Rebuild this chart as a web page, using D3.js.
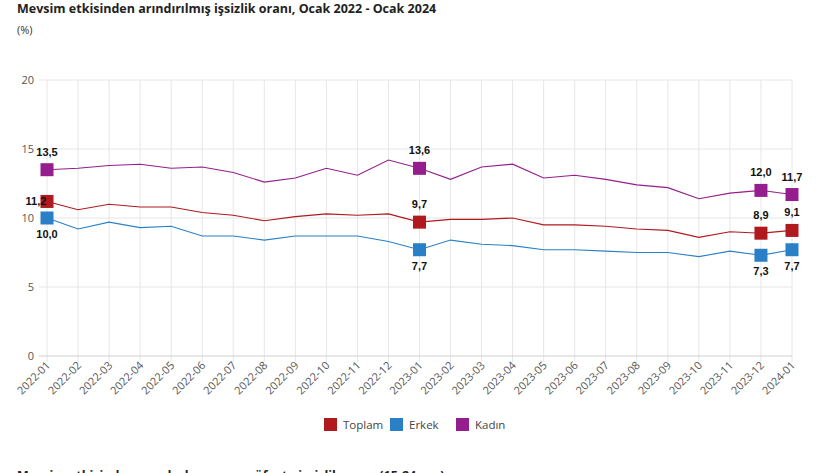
<!DOCTYPE html>
<html><head><meta charset="utf-8">
<script src="https://cdn.jsdelivr.net/npm/d3@7"></script>
<style>
body{margin:0;background:#fff;}
svg{display:block;}
</style></head>
<body>
<svg id="c" width="825" height="473"></svg>
<script>
const months = ["2022-01","2022-02","2022-03","2022-04","2022-05","2022-06","2022-07","2022-08","2022-09","2022-10","2022-11","2022-12","2023-01","2023-02","2023-03","2023-04","2023-05","2023-06","2023-07","2023-08","2023-09","2023-10","2023-11","2023-12","2024-01"];
const toplam = [11.2,10.6,11.0,10.8,10.8,10.4,10.2,9.8,10.1,10.3,10.2,10.3,9.7,9.9,9.9,10.0,9.5,9.5,9.4,9.2,9.1,8.6,9.0,8.9,9.1];
const erkek  = [10.0,9.2,9.7,9.3,9.4,8.7,8.7,8.4,8.7,8.7,8.7,8.3,7.7,8.4,8.1,8.0,7.7,7.7,7.6,7.5,7.5,7.2,7.6,7.3,7.7];
const kadin  = [13.5,13.6,13.8,13.9,13.6,13.7,13.3,12.6,12.9,13.6,13.1,14.2,13.6,12.8,13.7,13.9,12.9,13.1,12.8,12.4,12.2,11.4,11.8,12.0,11.7];
const seriesNames = ["Toplam","Erkek","Kadın"];
const yTicks = [0,5,10,15,20];
const markedIdx = [0,12,23,24];
const titleText = "Mevsim etkisinden arındırılmış işsizlik oranı, Ocak 2022 - Ocak 2024";
const unitText = "(%)";
const nextTitle = "Mevsim etkisinden arındırılmış genç nüfusta işsizlik oranı (15-24 yaş)";

const colors = ["#b0191e","#2a80c6","#951d8d"];
const series = [toplam, erkek, kadin];

const svg = d3.select("#c");
const L = 47, R = 792, T = 80, B = 356;
const x = d3.scalePoint().domain(months).range([L, R]);
const y = d3.scaleLinear().domain([0,20]).range([B, T]);

svg.append("text").attr("x",17).attr("y",13).text(titleText)
  .style("font-family","'Open Sans',sans-serif").style("font-weight","700").style("font-size","12.5px").attr("fill","#222");
svg.append("text").attr("x",17).attr("y",34).text(unitText)
  .style("font-family","'Open Sans',sans-serif").style("font-size","11px").attr("fill","#333");

// grid
const g = svg.append("g");
g.selectAll("line.v").data(months).join("line")
  .attr("x1",d=>x(d)).attr("x2",d=>x(d)).attr("y1",T).attr("y2",B+6)
  .attr("stroke","#e6e6e6").attr("stroke-width",1);
g.selectAll("line.h").data(yTicks).join("line")
  .attr("x1",39).attr("x2",R).attr("y1",d=>y(d)).attr("y2",d=>y(d))
  .attr("stroke",d=>d===0?"#d0d0d0":"#e6e6e6").attr("stroke-width",1);

// y labels
g.selectAll("text.yl").data(yTicks).join("text")
  .attr("x",34).attr("y",d=>y(d)+4).attr("text-anchor","end").text(d=>d)
  .style("font-family","'Open Sans',sans-serif").style("font-size","11px").attr("fill","#555");

// x labels
g.selectAll("text.xl").data(months).join("text")
  .attr("transform",d=>`translate(${x(d)+4},${B+10}) rotate(-45)`)
  .attr("text-anchor","end").text(d=>d)
  .style("font-family","'Open Sans',sans-serif").style("font-size","11px").attr("fill","#555");

// lines
const line = d3.line().x((d,i)=>x(months[i])).y(d=>y(d));
series.forEach((s,k)=>{
  svg.append("path").datum(s).attr("d",line).attr("fill","none")
    .attr("stroke",colors[k]).attr("stroke-width",1.1);
});

// markers
series.forEach((s,k)=>{
  svg.append("g").selectAll("rect").data(markedIdx).join("rect")
    .attr("x",i=>x(months[i])-6.5).attr("y",i=>y(s[i])-6.5)
    .attr("width",13).attr("height",13).attr("fill",colors[k]);
});

// labels
const fmt = v => v.toFixed(1).replace(".",",");
series.forEach((s,k)=>{
  svg.append("g").selectAll("text").data(markedIdx).join("text")
    .attr("x",i=> (k===0 && i===0) ? x(months[i])-11 : x(months[i]))
    .attr("y",i=>{
      if (k===0 && i===0) return y(s[i])+4;
      return k===1 ? y(s[i])+20 : y(s[i])-14;
    })
    .attr("text-anchor","middle").text(i=>fmt(s[i]))
    .style("font-family","'Liberation Sans',Arial,sans-serif").style("font-weight","700")
    .style("font-size","11px").attr("fill","#111");
});

// legend
const lg = svg.append("g");
const lx = [324, 390, 456];
seriesNames.forEach((n,k)=>{
  lg.append("rect").attr("x",lx[k]).attr("y",418).attr("width",13).attr("height",13).attr("fill",colors[k]);
  lg.append("text").attr("x",lx[k]+19).attr("y",428.5).text(n)
    .style("font-family","'Open Sans',sans-serif").style("font-size","11.5px").attr("fill","#444");
});

svg.append("text").attr("x",17).attr("y",480).text(nextTitle)
  .style("font-family","'Open Sans',sans-serif").style("font-weight","700").style("font-size","12.5px").attr("fill","#222");
</script>
</body></html>
